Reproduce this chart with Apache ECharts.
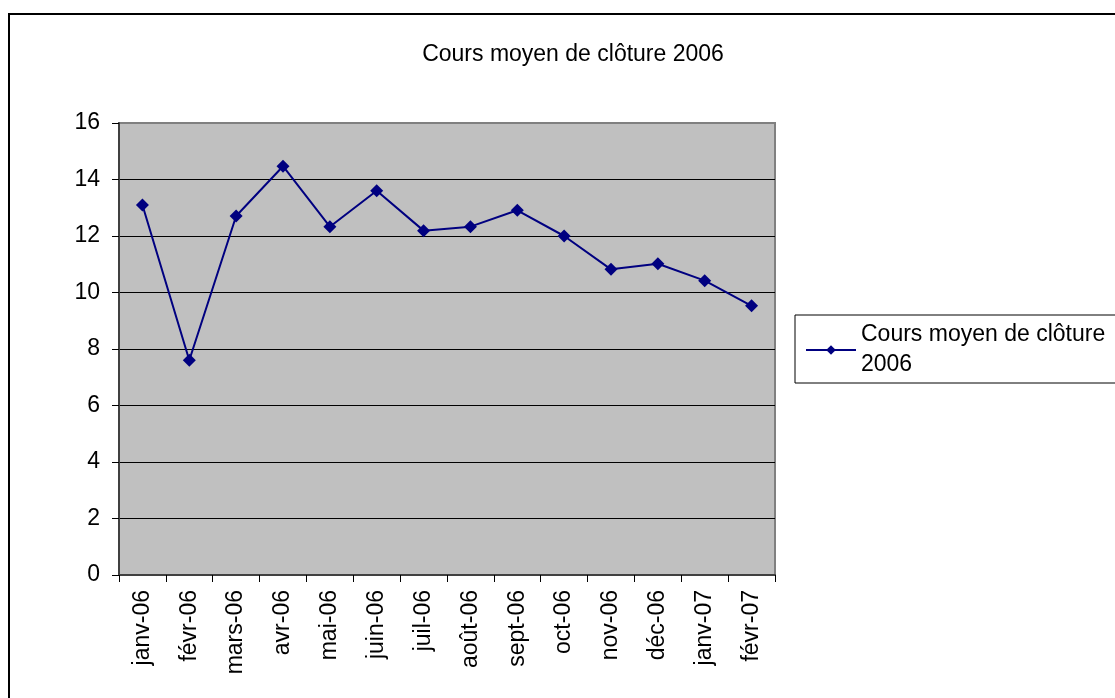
<!DOCTYPE html>
<html>
<head>
<meta charset="utf-8">
<script src="https://cdn.jsdelivr.net/npm/echarts@6/dist/echarts.min.js"></script>
<style>
  html, body { margin: 0; padding: 0; background: #fff; }
  #chart { width: 1115px; height: 698px; }
</style>
</head>
<body>
<div id="chart"></div>
<script>
const months = ['janv-06', 'févr-06', 'mars-06', 'avr-06', 'mai-06', 'juin-06', 'juil-06',
  'août-06', 'sept-06', 'oct-06', 'nov-06', 'déc-06', 'janv-07', 'févr-07']
const closing = [13.1, 7.6, 12.71, 14.47, 12.33, 13.6, 12.19, 12.33, 12.91, 12.0, 10.82, 11.02, 10.42, 9.53]
const seriesName = 'Cours moyen de clôture 2006'

const font = 'Liberation Sans, Arial, sans-serif'
const chart = echarts.init(document.getElementById('chart'))

// top gridline sits on the plot border, which is grey in the original
const gridColors = ['#000', '#000', '#000', '#000', '#000', '#000', '#000', '#000', '#808080']

chart.setOption({
  animation: false,
  textStyle: { fontFamily: font },
  title: {
    text: seriesName,
    left: 568,
    top: 38,
    textAlign: 'center',
    textStyle: { fontSize: 23, fontWeight: 'normal', color: '#000', fontFamily: font },
  },
  graphic: [
    {
      type: 'rect',
      shape: { x: 9, y: 14, width: 1130, height: 710 },
      style: { fill: 'none', stroke: '#000', lineWidth: 2 },
      silent: true,
    },
  ],
  legend: {
    left: 795,
    top: 315,
    orient: 'vertical',
    itemWidth: 50,
    itemHeight: 12,
    itemGap: 0,
    padding: [5, 40, 3, 10],
    borderColor: '#000',
    borderWidth: 1,
    formatter: () => 'Cours moyen de clôture\n2006',
    textStyle: { fontSize: 23, color: '#000', lineHeight: 30, fontFamily: font },
  },
  grid: {
    left: 119,
    right: 340,
    top: 123,
    bottom: 123,
    show: true,
    backgroundColor: '#c0c0c0',
    borderColor: '#808080',
    borderWidth: 2,
  },
  xAxis: {
    type: 'category',
    data: months,
    boundaryGap: true,
    axisLine: { lineStyle: { color: '#404040', width: 2 } },
    axisTick: { show: true, length: 7, inside: false, lineStyle: { color: '#000' } },
    axisLabel: { rotate: 90, fontSize: 23, color: '#000', margin: 15, interval: 0 },
    splitLine: { show: false },
  },
  yAxis: {
    type: 'value',
    min: 0,
    max: 16,
    interval: 2,
    axisLine: { show: true, lineStyle: { color: '#404040', width: 2 } },
    axisTick: { show: true, length: 7, lineStyle: { color: '#000' } },
    axisLabel: { fontSize: 23, color: '#000', margin: 19 },
    splitLine: { show: true, lineStyle: { color: gridColors, width: 1 } },
  },
  series: [
    {
      name: seriesName,
      type: 'line',
      data: closing,
      symbol: 'diamond',
      symbolSize: 13,
      itemStyle: { color: '#000080' },
      lineStyle: { color: '#000080', width: 2 },
    },
  ],
})
</script>
</body>
</html>
